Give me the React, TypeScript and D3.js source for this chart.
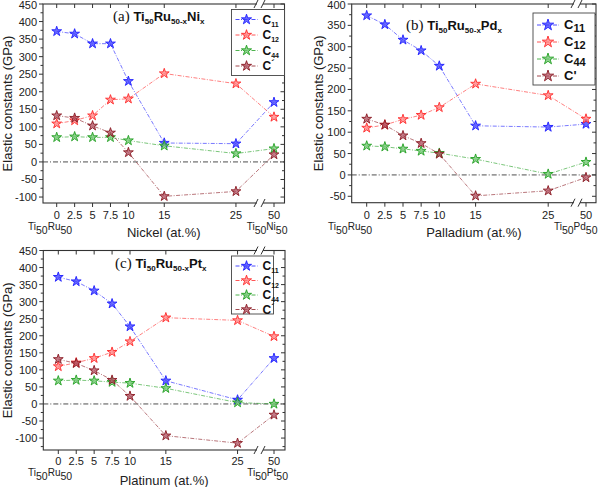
import React from 'react';
import * as d3 from 'd3';

// ---------- data ----------
const X_VALUES = [0, 2.5, 5, 7.5, 10, 15, 25, 50];
const X_TICK_LABELS = ['0', '2.5', '5', '7.5', '10', '15', '25', '50'];
const SERIES_KEYS = ['C11', 'C12', 'C44', 'Cp'];

// (a) Ti50Ru50-xNix
const NI_C11 = [372, 365, 337, 337, 230, 54, 52, 170];
const NI_C12 = [109, 118, 132, 177, 180, 252, 223, 128];
const NI_C44 = [70, 72, 70, 70, 61, 46, 24, 38];
const NI_CP = [132, 125, 103, 83, 27, -98, -84, 21];
const NI_Y_TICKS = [-100, -50, 0, 50, 100, 150, 200, 250, 300, 350, 400, 450];

// (b) Ti50Ru50-xPdx
const PD_C11 = [373, 352, 316, 291, 255, 115, 112, 119];
const PD_C12 = [110, 117, 130, 140, 158, 213, 186, 131];
const PD_C44 = [68, 66, 61, 56, 51, 37, 2, 30];
const PD_CP = [131, 117, 92, 74, 49, -49, -37, -6];
const PD_Y_TICKS = [-50, 0, 50, 100, 150, 200, 250, 300, 350, 400];

// (c) Ti50Ru50-xPtx
const PT_C11 = [372, 359, 332, 294, 227, 68, 12, 134];
const PT_C12 = [110, 121, 134, 152, 183, 253, 245, 198];
const PT_C44 = [68, 70, 68, 64, 61, 46, 4, 0];
const PT_CP = [131, 119, 98, 70, 23, -93, -115, -32];
const PT_Y_TICKS = [-100, -50, 0, 50, 100, 150, 200, 250, 300, 350, 400, 450];

const COLORS: Record<string, string> = { C11: '#1f1fff', C12: '#ff2a2a', C44: '#22a022', Cp: '#8a1a22' };
const FILLS: Record<string, string> = { C11: '#3a3aff', C12: '#ff8080', C44: '#6cc46c', Cp: '#b05060' };
const SANS = '"Liberation Sans", Arial, sans-serif';
const SERIF = '"Liberation Serif", "Times New Roman", serif';

type Cfg = {
  letter: string; elem: string; xTitle: string; rightLabel: string;
  series: Record<string, number[]>; yTicks: number[]; yDomain: [number, number];
  left: number; right: number; top: number; bottom: number;
  x0: number; ppu: number; x50: number; brk: number;
  title: { x: number; y: number };
  legend: { x: number; y: number; w: number; h: number; dy: number; big: boolean };
  labelY: number; leftLabelX: number; rightLabelX: number; xTitleY: number; yTitleX: number; tickLabelDy: number;
};

const PANELS: Cfg[] = [
  {
    letter: '(a)', elem: 'Ni', xTitle: 'Nickel (at.%)', rightLabel: 'Ni',
    series: { C11: NI_C11, C12: NI_C12, C44: NI_C44, Cp: NI_CP }, yTicks: NI_Y_TICKS, yDomain: [-117, 450],
    left: 43, right: 284.5, top: 4, bottom: 203, x0: 56.7, ppu: 7.17, x50: 274, brk: 260,
    title: { x: 113, y: 21 }, legend: { x: 231.5, y: 9.5, w: 53, h: 66, dy: 15.5, big: false },
    labelY: 230, leftLabelX: 28, rightLabelX: 287.5, xTitleY: 237, yTitleX: 12, tickLabelDy: 16,
  },
  {
    letter: '(b)', elem: 'Pd', xTitle: 'Palladium (at.%)', rightLabel: 'Pd',
    series: { C11: PD_C11, C12: PD_C12, C44: PD_C44, Cp: PD_CP }, yTicks: PD_Y_TICKS, yDomain: [-65, 400],
    left: 351.7, right: 596, top: 4, bottom: 202.7, x0: 366.7, ppu: 7.26, x50: 586, brk: 577,
    title: { x: 406, y: 30 }, legend: { x: 533, y: 13, w: 62, h: 72, dy: 17, big: true },
    labelY: 230, leftLabelX: 328, rightLabelX: 597.5, xTitleY: 237, yTitleX: 323, tickLabelDy: 16,
  },
  {
    letter: '(c)', elem: 'Pt', xTitle: 'Platinum (at.%)', rightLabel: 'Pt',
    series: { C11: PT_C11, C12: PT_C12, C44: PT_C44, Cp: PT_CP }, yTicks: PT_Y_TICKS, yDomain: [-135, 450],
    left: 43.3, right: 285, top: 250.5, bottom: 450, x0: 58.3, ppu: 7.17, x50: 274, brk: 260,
    title: { x: 115, y: 268 }, legend: { x: 231.5, y: 256, w: 42, h: 58, dy: 14.5, big: false },
    labelY: 476, leftLabelX: 28, rightLabelX: 288, xTitleY: 485, yTitleX: 12, tickLabelDy: 15,
  },
];

function Formula({ x, y, elem, letter }: { x: number; y: number; elem: string; letter: string }) {
  return (
    <text x={x} y={y} fill="#111">
      <tspan fontFamily={SERIF} fontSize={15}>{letter} </tspan>
      <tspan fontFamily={SANS} fontWeight="bold" fontSize={13}>Ti</tspan>
      <tspan fontFamily={SANS} fontWeight="bold" fontSize={8} dy={3}>50</tspan>
      <tspan fontFamily={SANS} fontWeight="bold" fontSize={13} dy={-3}>Ru</tspan>
      <tspan fontFamily={SANS} fontWeight="bold" fontSize={8} dy={3}>50-x</tspan>
      <tspan fontFamily={SANS} fontWeight="bold" fontSize={13} dy={-3}>{elem}</tspan>
      <tspan fontFamily={SANS} fontWeight="bold" fontSize={8} dy={3}>x</tspan>
    </text>
  );
}

function Alloy({ x, y, a, b, anchor }: { x: number; y: number; a: string; b: string; anchor: string }) {
  return (
    <text x={x} y={y} fontFamily={SANS} fontSize={10} fill="#222" textAnchor={anchor}>
      <tspan>{a}</tspan>
      <tspan dy={4} fontSize={10.5}>50</tspan>
      <tspan dy={-4}>{b}</tspan>
      <tspan dy={4} fontSize={10.5}>50</tspan>
    </text>
  );
}

function LegendLabel({ k, x, y, big }: { k: string; x: number; y: number; big: boolean }) {
  const sub = k === 'Cp' ? '' : k.slice(1);
  return (
    <text x={x} y={y + 4} fontFamily={SANS} fontWeight="bold" fontSize={big ? 13 : 12} fill="#111">
      <tspan>C</tspan>
      {sub ? <tspan fontSize={big ? 11 : 7} dy={3}>{sub}</tspan> : <tspan fontSize={big ? 13 : 10} dy={big ? 0 : -3}>{big ? "'" : '\u00B4'}</tspan>}
    </text>
  );
}

function Panel({ c }: { c: Cfg }) {
  const x25 = c.x0 + 25 * c.ppu;
  const leftVal = (c.left - c.x0) / c.ppu;
  const rightVal = 50 + (c.right - c.x50) / c.ppu;
  const x = d3.scaleLinear().domain([leftVal, 25, 50, rightVal]).range([c.left, x25, c.x50, c.right]);
  const y = d3.scaleLinear().domain(c.yDomain).range([c.bottom, c.top]);
  const line = d3.line<[number, number]>().x(d => x(d[0])).y(d => y(d[1]));
  const star = d3.symbol().type(d3.symbolStar).size(30)();
  const starLeg = d3.symbol().type(d3.symbolStar).size(c.legend.big ? 40 : 32)();
  const minor = d3.range(c.yTicks[0] - 25, c.yDomain[1] + 1, 25).filter(v => v >= c.yDomain[0] && !c.yTicks.includes(v));
  const axisColor = '#333';
  return (
    <g>
      <line x1={c.left} x2={c.right} y1={y(0)} y2={y(0)} stroke="#222" strokeWidth={0.8} strokeDasharray="5,2,1,2" />
      {SERIES_KEYS.map(k => {
        const pts = X_VALUES.map((v, i) => [v, c.series[k][i]] as [number, number]);
        return (
          <g key={k}>
            <path d={line(pts) || ''} fill="none" stroke={COLORS[k]} strokeOpacity={0.75} strokeWidth={0.8} strokeDasharray="4,1.5,1,1.5" />
            {pts.map((p, i) => (
              <path key={i} d={star || ''} transform={`translate(${x(p[0])},${y(p[1])})`} fill={FILLS[k]} fillOpacity={0.75} stroke={COLORS[k]} strokeWidth={0.9} />
            ))}
          </g>
        );
      })}
      <rect x={c.left} y={c.top} width={c.right - c.left} height={c.bottom - c.top} fill="none" stroke={axisColor} strokeWidth={1.1} />
      {c.yTicks.map(v => (
        <g key={v}>
          <line x1={c.left - 4} x2={c.left} y1={y(v)} y2={y(v)} stroke={axisColor} />
          <line x1={c.right - 4} x2={c.right} y1={y(v)} y2={y(v)} stroke={axisColor} />
          <text x={c.left - 6} y={Math.max(y(v) + 4, 9)} textAnchor="end" fontFamily={SANS} fontSize={11} fill="#222">{v}</text>
        </g>
      ))}
      {minor.map(v => (
        <g key={'m' + v}>
          <line x1={c.left - 2.5} x2={c.left} y1={y(v)} y2={y(v)} stroke={axisColor} />
          <line x1={c.right - 2.5} x2={c.right} y1={y(v)} y2={y(v)} stroke={axisColor} />
        </g>
      ))}
      {X_VALUES.map((v, i) => (
        <g key={v}>
          <line x1={x(v)} x2={x(v)} y1={c.bottom} y2={c.bottom + 4} stroke={axisColor} />
          <line x1={x(v)} x2={x(v)} y1={c.top} y2={c.top + 4} stroke={axisColor} />
          <text x={x(v)} y={c.bottom + c.tickLabelDy} textAnchor="middle" fontFamily={SANS} fontSize={11} fill="#222">{X_TICK_LABELS[i]}</text>
        </g>
      ))}
      {[c.top, c.bottom].map(yy => (
        <g key={'b' + yy}>
          <rect x={c.brk - 3} y={yy - 1.5} width={6} height={3} fill="white" />
          <line x1={c.brk - 6} y1={yy + 4} x2={c.brk - 2} y2={yy - 4} stroke={axisColor} />
          <line x1={c.brk + 1} y1={yy + 4} x2={c.brk + 5} y2={yy - 4} stroke={axisColor} />
        </g>
      ))}
      <rect x={c.legend.x} y={c.legend.y} width={c.legend.w} height={c.legend.h} fill="white" stroke="#444" strokeWidth={0.9} />
      {SERIES_KEYS.map((k, i) => {
        const ly = c.legend.y + 10 + i * c.legend.dy + (c.legend.big ? 2 : 0);
        const lx = c.legend.x + 4;
        return (
          <g key={'l' + k}>
            <line x1={lx} x2={lx + 22} y1={ly} y2={ly} stroke={COLORS[k]} strokeWidth={0.8} strokeDasharray="4,1.5,1,1.5" />
            <path d={starLeg || ''} transform={`translate(${lx + 11},${ly})`} fill={FILLS[k]} fillOpacity={0.75} stroke={COLORS[k]} strokeWidth={0.9} />
            <LegendLabel k={k} x={lx + 27} y={ly} big={c.legend.big} />
          </g>
        );
      })}
      <Formula x={c.title.x} y={c.title.y} elem={c.elem} letter={c.letter} />
      <Alloy x={c.leftLabelX} y={c.labelY} a="Ti" b="Ru" anchor="start" />
      <Alloy x={c.rightLabelX} y={c.labelY} a="Ti" b={c.rightLabel} anchor="end" />
      <text x={(c.left + c.right) / 2} y={c.xTitleY} textAnchor="middle" fontFamily={SANS} fontSize={13} fill="#222">{c.xTitle}</text>
      <text transform={`translate(${c.yTitleX},${(c.top + c.bottom) / 2}) rotate(-90)`} textAnchor="middle" fontFamily={SANS} fontSize={13} fill="#222">Elastic constants (GPa)</text>
    </g>
  );
}

export default function App() {
  return (
    <svg width={600} height={487} style={{ position: 'absolute', left: 0, top: 0, background: 'white' }}>
      {PANELS.map(c => <Panel key={c.letter} c={c} />)}
    </svg>
  );
}
